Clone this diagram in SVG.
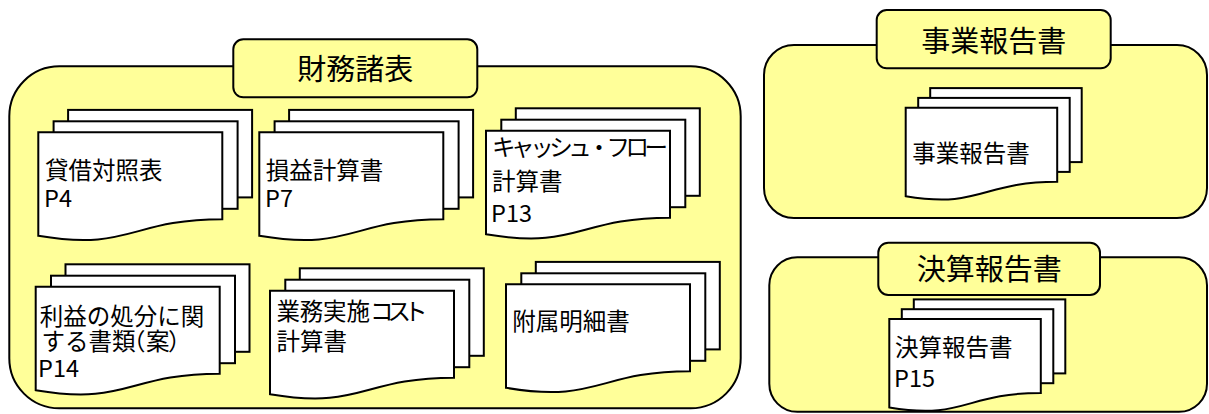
<svg xmlns="http://www.w3.org/2000/svg" xmlns:xlink="http://www.w3.org/1999/xlink" width="1209" height="414" viewBox="0 0 1209 414">
<style>
.box{fill:#FFFF99;stroke:#000;stroke-width:2}
.page{fill:#fff;stroke:#000;stroke-width:2;stroke-linejoin:miter}
.title{font-family:"Noto Sans CJK JP","Noto Sans",sans-serif;font-size:29px;fill:#000;text-anchor:middle}
.lbl{font-family:"Noto Sans CJK JP","Noto Sans",sans-serif;font-size:23.5px;fill:#000}
</style>
<defs>
<g id="docBig">
<rect class="page" x="29.8" y="-22.4" width="184" height="87.5"/>
<rect class="page" x="15.3" y="-11" width="184" height="87.5"/>
<path class="page" d="M0,0 H184 V87 C92,87 92,119 0,103.5 Z"/>
</g>
<g id="docSmall">
<rect class="page" x="24.5" y="-19.6" width="151.5" height="74"/>
<rect class="page" x="12.5" y="-9.8" width="151.5" height="74"/>
<path class="page" d="M0,0 H151.5 V74 C75.7,74 75.7,101 0,88.5 Z"/>
</g>
</defs>

<g id="group-zaimu">
<rect class="box" x="9.3" y="66.3" width="731.4" height="342" rx="50" ry="50"/>
<rect class="box" x="233.3" y="39.3" width="244" height="58" rx="10" ry="10"/>
<text class="title" x="355.3" y="80">財務諸表</text>
</g>

<g id="group-jigyo">
<rect class="box" x="764" y="45" width="443" height="173" rx="30" ry="30"/>
<rect class="box" x="876.7" y="10" width="234" height="58.3" rx="10" ry="10"/>
<text class="title" x="993.7" y="51.5">事業報告書</text>
</g>

<g id="group-kessan">
<rect class="box" x="769.3" y="257.3" width="437.7" height="154.5" rx="28" ry="28"/>
<rect class="box" x="878.3" y="242.7" width="221.7" height="52.3" rx="10" ry="10"/>
<text class="title" x="989.2" y="280">決算報告書</text>
</g>

<g id="doc-taishaku">
<use xlink:href="#docBig" x="38.3" y="132.3"/>
<text class="lbl" x="45" y="178.5">貸借対照表</text>
<text class="lbl" x="44" y="207">P4</text>
</g>

<g id="doc-soneki">
<use xlink:href="#docBig" x="259.3" y="132.3"/>
<text class="lbl" x="265.7" y="178.5">損益計算書</text>
<text class="lbl" x="265" y="207">P7</text>
</g>

<g id="doc-cashflow">
<use xlink:href="#docBig" x="486" y="130.7"/>
<text class="lbl" x="492" y="155.5" textLength="176" lengthAdjust="spacing">キャッシュ・フロー</text>
<text class="lbl" x="492" y="190">計算書</text>
<text class="lbl" x="491" y="221.7">P13</text>
</g>

<g id="doc-rieki">
<use xlink:href="#docBig" x="35.7" y="286.7"/>
<text class="lbl" x="39.7" y="324.5">利益の処分に関</text>
<text class="lbl" x="41.5" y="349.5">する書類<tspan dx="-13.5">（</tspan><tspan dx="0.5">案</tspan><tspan dx="-1.5">）</tspan></text>
<text class="lbl" x="38" y="376.7">P14</text>
</g>

<g id="doc-gyomu">
<use xlink:href="#docBig" x="270" y="290.7"/>
<text class="lbl" x="276.5 299.8 323.1 346.4 370 387.5 404" y="320">業務実施コスト</text>
<text class="lbl" x="276.5" y="350">計算書</text>
</g>

<g id="doc-fuzoku">
<use xlink:href="#docBig" x="506" y="284.3"/>
<text class="lbl" x="512.3" y="330">附属明細書</text>
</g>

<g id="doc-jigyo">
<use xlink:href="#docSmall" x="905.7" y="107.7"/>
<text class="lbl" x="912.3" y="162">事業報告書</text>
</g>

<g id="doc-kessan">
<use xlink:href="#docSmall" x="889.3" y="319"/>
<text class="lbl" x="895" y="356">決算報告書</text>
<text class="lbl" x="894" y="386.7">P15</text>
</g>

<g id="connectors"></g>
</svg>
